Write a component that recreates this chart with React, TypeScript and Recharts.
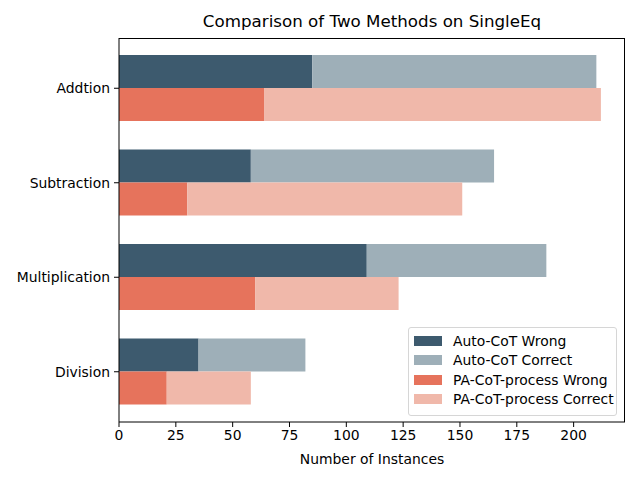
import { Bar, BarChart, Legend, XAxis, YAxis } from 'recharts'

const categories = ['Addtion', 'Subtraction', 'Multiplication', 'Division']
const autoWrong = [85, 58, 109, 35]
const autoCorrect = [125, 107, 79, 47]
const paWrong = [64, 30, 60, 21]
const paCorrect = [148, 121, 63, 37]
const xTicks = [0, 25, 50, 75, 100, 125, 150, 175, 200]
const seriesNames = ['Auto-CoT Wrong', 'Auto-CoT Correct', 'PA-CoT-process Wrong', 'PA-CoT-process Correct']

const data = categories.map((name, i) => ({
  name,
  autoWrong: autoWrong[i],
  autoCorrect: autoCorrect[i],
  paWrong: paWrong[i],
  paCorrect: paCorrect[i],
}))

const tickStyle = { fill: '#000', fontSize: 13.9 }

function LegendBox(props: any) {
  const items = [...(props.payload || [])].sort(
    (a: any, b: any) => seriesNames.indexOf(a.value) - seriesNames.indexOf(b.value)
  )
  return (
    <div
      style={{
        width: 207,
        height: 84,
        border: '1px solid #d6d6d6',
        borderRadius: 3,
        background: 'rgba(255,255,255,0.8)',
        fontSize: 13.9,
        color: '#000',
        paddingTop: 3,
        boxSizing: 'content-box',
      }}
    >
      {items.map((it: any) => (
        <div key={it.value} style={{ display: 'flex', alignItems: 'center', height: 19.5 }}>
          <span style={{ width: 28, height: 10, background: it.color, marginLeft: 5, marginRight: 11 }} />
          <span>{it.value}</span>
        </div>
      ))}
    </div>
  )
}

export default function App() {
  return (
    <div style={{ position: 'absolute', left: 0, top: 0, width: 640, height: 480, fontFamily: 'DejaVu Sans', background: '#fff' }}>
      <div style={{ position: 'absolute', left: 119, width: 506, top: 13, textAlign: 'center', fontSize: 16.7, lineHeight: 1, color: '#000' }}>
        Comparison of Two Methods on SingleEq
      </div>
      <BarChart
        width={640}
        height={480}
        data={data}
        layout='vertical'
        margin={{ top: 38, right: 15, left: 0, bottom: 0 }}
        barGap={0}
      >
        <XAxis
          type='number'
          domain={[0, 222.6]}
          ticks={xTicks}
          allowDataOverflow
          height={58}
          tick={tickStyle}
          tickSize={5}
          tickMargin={3}
          axisLine={{ stroke: '#000' }}
          tickLine={{ stroke: '#000' }}
          label={{ value: 'Number of Instances', position: 'insideBottom', offset: 16, fill: '#000', fontSize: 13.9 }}
        />
        <YAxis
          type='category'
          dataKey='name'
          width={119}
          padding={{ top: 3, bottom: 3 }}
          tick={tickStyle}
          tickSize={5}
          tickMargin={4}
          axisLine={{ stroke: '#000' }}
          tickLine={{ stroke: '#000' }}
        />
        <Bar dataKey='autoWrong' name={seriesNames[0]} stackId='auto' fill='#3d5a6e' barSize={33} isAnimationActive={false} />
        <Bar dataKey='autoCorrect' name={seriesNames[1]} stackId='auto' fill='#9eafb8' barSize={33} isAnimationActive={false} />
        <Bar dataKey='paWrong' name={seriesNames[2]} stackId='pa' fill='#e6735c' barSize={33} isAnimationActive={false} />
        <Bar dataKey='paCorrect' name={seriesNames[3]} stackId='pa' fill='#f0b8aa' barSize={33} isAnimationActive={false} />
        <Legend
          layout='vertical'
          align='center'
          verticalAlign='middle'
          content={LegendBox}
          wrapperStyle={{ position: 'absolute', left: 408, top: 327, width: 'auto' }}
        />
      </BarChart>
      {/* top and right spines */}
      <div
        style={{
          position: 'absolute',
          left: 119,
          top: 38,
          width: 506,
          height: 384,
          borderTop: '1px solid #000',
          borderRight: '1px solid #000',
          boxSizing: 'border-box',
          pointerEvents: 'none',
        }}
      />
    </div>
  )
}
